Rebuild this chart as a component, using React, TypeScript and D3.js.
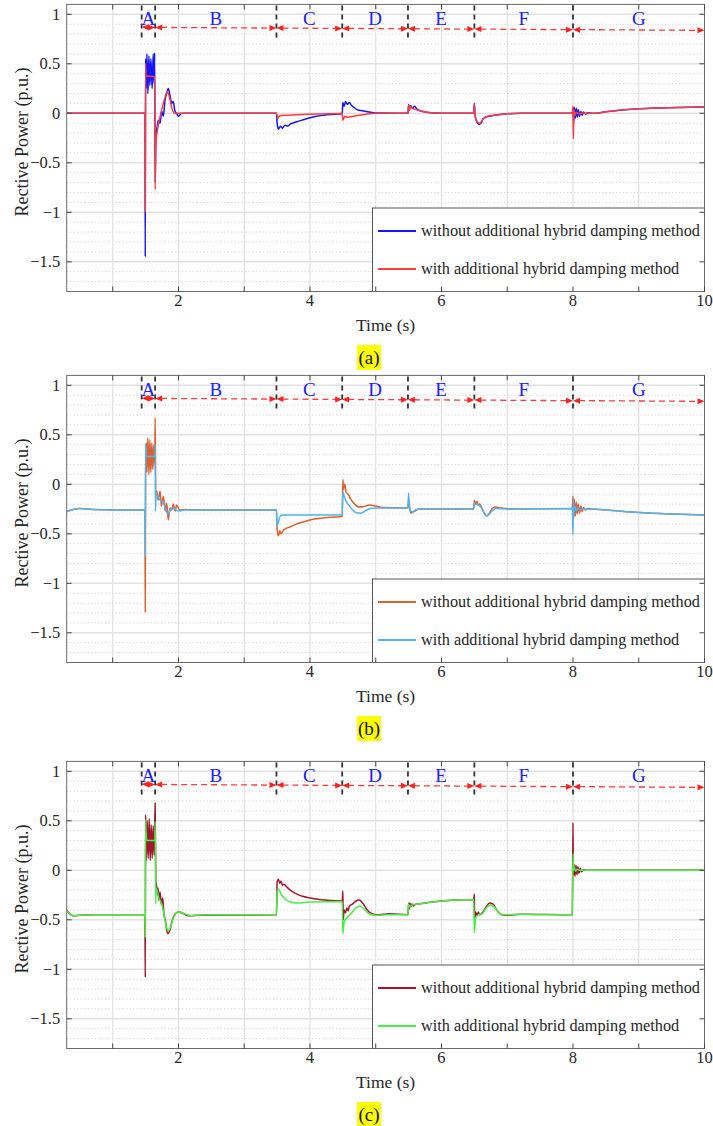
import * as d3 from "d3";
import { useEffect, useRef } from "react";

// x ticks / y ticks
const timeTicks = [2, 4, 6, 8, 10]
const powerTicks = [1, 0.5, 0, -0.5, -1, -1.5]
// section boundaries (s) and names
const sectionBounds = [1.44, 1.645, 3.49, 4.49, 5.49, 6.5, 8.0]
const sectionNames = ["A", "B", "C", "D", "E", "F", "G"]
const legendLabels = ["without additional hybrid damping method", "with additional hybrid damping method"]
const captions = ["(a)", "(b)", "(c)"]

type Pt = [number, number]

// (a)
const aWithout: Pt[] = [[0.3,0],[1.49,0],[1.495,-1.45],[1.5,0.55],[1.51,0.25],[1.52,0.6],[1.535,0.2],[1.55,0.58],[1.565,0.28],[1.58,0.55],[1.6,0.25],[1.615,0.6],[1.63,0.3],[1.638,0.61],[1.645,-0.7],[1.655,-0.3],[1.694,-0.07],[1.72,-0.1],[1.745,0.02],[1.77,-0.03],[1.795,0.13],[1.82,0.2],[1.845,0.25],[1.87,0.185],[1.897,0.1],[1.92,0.12],[1.947,0.02],[1.97,0],[2.0,-0.03],[2.05,0],[3.49,0],[3.5,-0.1],[3.52,-0.16],[3.55,-0.13],[3.58,-0.15],[3.62,-0.12],[3.66,-0.13],[3.7,-0.11],[3.8,-0.085],[3.9,-0.065],[4.0,-0.045],[4.1,-0.03],[4.2,-0.02],[4.3,-0.012],[4.49,-0.005],[4.5,0.11],[4.52,0.07],[4.54,0.12],[4.57,0.09],[4.6,0.11],[4.63,0.08],[4.67,0.06],[4.72,0.035],[4.8,0.025],[4.9,0.012],[5.0,0.003],[5.49,0],[5.5,0.09],[5.51,0.03],[5.53,0.08],[5.56,0.05],[5.59,0.07],[5.63,0.04],[5.7,0.02],[5.8,0.008],[6.0,0],[6.49,0],[6.5,0.1],[6.51,-0.02],[6.54,-0.09],[6.57,-0.11],[6.6,-0.1],[6.63,-0.06],[6.67,-0.04],[6.72,-0.03],[6.8,-0.02],[7.0,-0.005],[7.2,0],[7.99,0],[8.0,0.06],[8.01,-0.1],[8.02,0.06],[8.035,-0.05],[8.05,0.05],[8.065,-0.04],[8.08,0.035],[8.1,-0.03],[8.12,0.02],[8.14,-0.02],[8.16,0.012],[8.19,-0.01],[8.22,0.005],[8.3,0],[8.5,0.015],[8.7,0.03],[9.0,0.045],[9.3,0.053],[9.6,0.058],[10,0.063]]
const aWith: Pt[] = [[0.3,0],[1.49,0],[1.495,-1.0],[1.5,0.5],[1.505,0.38],[1.64,0.37],[1.645,-0.77],[1.655,-0.3],[1.7,-0.1],[1.75,0.05],[1.8,0.17],[1.83,0.22],[1.86,0.17],[1.9,0.05],[1.94,0],[3.49,0],[3.51,-0.05],[3.53,-0.03],[3.6,-0.02],[3.8,-0.015],[4.0,-0.01],[4.49,-0.003],[4.5,-0.07],[4.53,-0.03],[4.57,-0.04],[4.62,-0.035],[4.7,-0.025],[4.8,-0.015],[4.9,-0.005],[5.0,0],[5.49,0],[5.5,0.08],[5.51,0.03],[5.53,0.07],[5.56,0.05],[5.6,0.04],[5.7,0.02],[5.8,0.008],[6.0,0],[6.49,0],[6.5,0.09],[6.51,-0.02],[6.55,-0.09],[6.58,-0.1],[6.63,-0.06],[6.7,-0.03],[6.8,-0.02],[7.0,-0.005],[7.2,0],[7.99,0],[8.0,0.07],[8.005,-0.26],[8.015,0.03],[8.03,-0.02],[8.05,0.01],[8.08,-0.005],[8.12,0],[8.3,0],[8.5,0.015],[8.7,0.03],[9.0,0.045],[9.3,0.053],[9.6,0.058],[10,0.063]]

// (b)
const bWithout: Pt[] = [[0.3,-0.275],[0.4,-0.255],[0.5,-0.245],[0.7,-0.255],[1.0,-0.26],[1.49,-0.26],[1.495,-1.29],[1.5,0.1],[1.51,0.42],[1.52,0.12],[1.535,0.47],[1.55,0.1],[1.565,0.45],[1.58,0.12],[1.595,0.42],[1.61,0.15],[1.625,0.4],[1.64,0.2],[1.645,0.67],[1.655,-0.07],[1.67,-0.07],[1.69,-0.16],[1.72,-0.07],[1.74,-0.22],[1.77,-0.12],[1.8,-0.27],[1.82,-0.19],[1.845,-0.36],[1.87,-0.24],[1.9,-0.26],[1.92,-0.2],[1.95,-0.27],[1.97,-0.21],[2.02,-0.26],[2.1,-0.255],[2.3,-0.26],[3.49,-0.26],[3.5,-0.45],[3.52,-0.52],[3.54,-0.47],[3.56,-0.5],[3.6,-0.46],[3.7,-0.43],[3.8,-0.4],[3.9,-0.38],[4.0,-0.36],[4.2,-0.34],[4.49,-0.325],[4.5,0.05],[4.51,-0.05],[4.53,0],[4.55,-0.08],[4.58,-0.1],[4.62,-0.15],[4.68,-0.2],[4.75,-0.23],[4.82,-0.225],[4.9,-0.21],[5.0,-0.22],[5.1,-0.235],[5.49,-0.24],[5.5,-0.15],[5.51,-0.2],[5.52,-0.26],[5.54,-0.29],[5.56,-0.28],[5.6,-0.27],[5.65,-0.25],[6.49,-0.25],[6.5,-0.16],[6.52,-0.2],[6.54,-0.17],[6.56,-0.21],[6.58,-0.2],[6.62,-0.25],[6.66,-0.3],[6.69,-0.32],[6.73,-0.29],[6.78,-0.24],[6.83,-0.23],[6.9,-0.24],[7.1,-0.25],[7.99,-0.245],[8.0,-0.12],[8.01,-0.35],[8.02,-0.15],[8.035,-0.32],[8.05,-0.18],[8.065,-0.3],[8.08,-0.2],[8.1,-0.29],[8.12,-0.22],[8.14,-0.275],[8.16,-0.235],[8.19,-0.26],[8.22,-0.245],[8.3,-0.25],[8.6,-0.265],[9.0,-0.285],[9.5,-0.3],[10,-0.31]]
const bWith: Pt[] = [[0.3,-0.275],[0.4,-0.255],[0.5,-0.245],[0.7,-0.255],[1.0,-0.26],[1.49,-0.26],[1.495,-0.73],[1.5,0.41],[1.51,0.3],[1.52,0.28],[1.64,0.28],[1.645,0.4],[1.65,-0.27],[1.66,-0.1],[1.72,-0.16],[1.78,-0.2],[1.84,-0.3],[1.9,-0.24],[1.95,-0.25],[2.0,-0.27],[2.1,-0.26],[3.49,-0.26],[3.5,-0.42],[3.52,-0.38],[3.55,-0.32],[3.6,-0.31],[4.49,-0.31],[4.5,-0.08],[4.52,-0.12],[4.55,-0.17],[4.6,-0.22],[4.65,-0.26],[4.72,-0.29],[4.78,-0.29],[4.85,-0.265],[4.92,-0.245],[5.0,-0.24],[5.49,-0.24],[5.5,-0.09],[5.51,-0.2],[5.53,-0.27],[5.56,-0.28],[5.6,-0.26],[5.7,-0.25],[6.49,-0.25],[6.5,-0.19],[6.52,-0.2],[6.56,-0.21],[6.62,-0.25],[6.66,-0.3],[6.69,-0.32],[6.73,-0.3],[6.78,-0.26],[6.84,-0.245],[7.0,-0.25],[7.99,-0.245],[8.0,-0.51],[8.005,-0.15],[8.015,-0.3],[8.03,-0.22],[8.05,-0.27],[8.07,-0.24],[8.1,-0.255],[8.3,-0.25],[8.6,-0.265],[9.0,-0.285],[9.5,-0.3],[10,-0.31]]

// (c)
const cWithout: Pt[] = [[0.3,-0.41],[0.35,-0.44],[0.4,-0.46],[0.5,-0.455],[0.7,-0.45],[1.49,-0.45],[1.495,-1.08],[1.5,0.56],[1.51,0.1],[1.525,0.5],[1.54,0.12],[1.555,0.52],[1.57,0.1],[1.585,0.46],[1.6,0.12],[1.615,0.45],[1.63,0.15],[1.645,0.68],[1.655,-0.1],[1.665,-0.15],[1.68,-0.25],[1.69,-0.18],[1.7,-0.3],[1.72,-0.22],[1.74,-0.35],[1.76,-0.28],[1.78,-0.45],[1.8,-0.5],[1.82,-0.6],[1.84,-0.64],[1.86,-0.62],[1.88,-0.58],[1.9,-0.52],[1.95,-0.44],[2.0,-0.42],[2.05,-0.43],[2.15,-0.46],[2.3,-0.455],[3.49,-0.45],[3.5,-0.12],[3.52,-0.09],[3.54,-0.13],[3.56,-0.11],[3.58,-0.15],[3.6,-0.14],[3.65,-0.17],[3.7,-0.2],[3.8,-0.24],[3.9,-0.265],[4.0,-0.28],[4.15,-0.295],[4.3,-0.305],[4.49,-0.31],[4.5,-0.21],[4.505,-0.5],[4.52,-0.4],[4.54,-0.43],[4.56,-0.38],[4.58,-0.41],[4.6,-0.36],[4.65,-0.34],[4.7,-0.31],[4.75,-0.3],[4.8,-0.33],[4.87,-0.4],[4.95,-0.44],[5.05,-0.45],[5.2,-0.44],[5.49,-0.45],[5.5,-0.33],[5.51,-0.39],[5.52,-0.33],[5.535,-0.37],[5.55,-0.34],[5.57,-0.36],[5.6,-0.345],[5.65,-0.34],[5.8,-0.325],[6.0,-0.31],[6.2,-0.3],[6.49,-0.295],[6.5,-0.24],[6.505,-0.5],[6.52,-0.42],[6.54,-0.46],[6.56,-0.42],[6.58,-0.45],[6.62,-0.43],[6.68,-0.37],[6.73,-0.33],[6.78,-0.34],[6.85,-0.41],[6.92,-0.45],[7.0,-0.455],[7.2,-0.445],[7.99,-0.45],[8.0,0.48],[8.005,-0.05],[8.015,0.06],[8.03,-0.06],[8.045,0.05],[8.06,-0.045],[8.075,0.035],[8.09,-0.03],[8.11,0.02],[8.13,-0.015],[8.16,0.008],[8.2,0],[10,0]]
const cWith: Pt[] = [[0.3,-0.41],[0.35,-0.44],[0.4,-0.46],[0.5,-0.455],[0.7,-0.45],[1.49,-0.45],[1.495,-0.68],[1.5,0.51],[1.51,0.35],[1.52,0.3],[1.64,0.3],[1.645,0.49],[1.655,-0.34],[1.66,-0.18],[1.7,-0.28],[1.75,-0.35],[1.78,-0.45],[1.82,-0.58],[1.85,-0.61],[1.88,-0.57],[1.92,-0.49],[1.97,-0.43],[2.02,-0.42],[2.1,-0.44],[2.2,-0.46],[2.4,-0.45],[3.49,-0.45],[3.5,-0.22],[3.52,-0.19],[3.56,-0.24],[3.62,-0.29],[3.7,-0.32],[3.8,-0.33],[4.0,-0.32],[4.49,-0.315],[4.5,-0.64],[4.52,-0.52],[4.56,-0.48],[4.62,-0.44],[4.7,-0.38],[4.76,-0.36],[4.82,-0.39],[4.9,-0.44],[5.0,-0.455],[5.2,-0.45],[5.49,-0.45],[5.5,-0.34],[5.52,-0.37],[5.55,-0.35],[5.65,-0.34],[5.8,-0.325],[6.0,-0.31],[6.2,-0.3],[6.49,-0.295],[6.5,-0.63],[6.52,-0.48],[6.56,-0.45],[6.62,-0.44],[6.68,-0.38],[6.74,-0.35],[6.8,-0.37],[6.86,-0.42],[6.93,-0.45],[7.2,-0.445],[7.99,-0.45],[8.0,0.17],[8.01,0],[8.02,0.03],[8.04,-0.01],[8.06,0.01],[8.1,0],[10,0]]

const panelSeries = [[aWithout, aWith], [bWithout, bWith], [cWithout, cWith]]
const panelColors = [["#1414ff", "#ff3c3c"], ["#dc6030", "#4fb4f0"], ["#a3162f", "#44f044"]]

const W = 713, H = 1126
const left = 66.7, right = 704.5
const panelTop = [4.4, 375.4, 761.4]
const plotH = 287.1
const font = "'Liberation Serif', 'Times New Roman', serif"

export default function App() {
    const svgRef = useRef(null)

    useEffect(() => {
        const svg = d3.select(svgRef.current)
        svg.selectAll("*").remove()
        svg.append("rect").attr("width", W).attr("height", H).attr("fill", "white")

        const x = d3.scaleLinear([0.3, 10], [left, right])

        panelSeries.forEach((series, p) => {
            const top = panelTop[p], bottom = top + plotH
            const y = d3.scaleLinear([-1.8, 1.1], [bottom, top])
            const g = svg.append("g")

            g.append("clipPath").attr("id", "clip" + p)
                .append("rect").attr("x", left).attr("y", top).attr("width", right - left).attr("height", plotH)

            // grid
            const minor = d3.range(-17, 11).map(i => i / 10).filter(v => Math.abs(v * 2 - Math.round(v * 2)) > 1e-6)
            g.selectAll(".minor").data(minor).join("line")
                .attr("x1", left).attr("x2", right)
                .attr("y1", d => y(d)).attr("y2", d => y(d))
                .attr("stroke", "#bdbdbd").attr("stroke-width", 0.8).attr("stroke-dasharray", "1,2.5")
            g.selectAll(".major").data(powerTicks).join("line")
                .attr("x1", left).attr("x2", right)
                .attr("y1", d => y(d)).attr("y2", d => y(d))
                .attr("stroke", "#e2e2e2").attr("stroke-width", 1.6)
            g.selectAll(".vgrid").data(d3.range(1, 10)).join("line")
                .attr("x1", d => x(d)).attr("x2", d => x(d))
                .attr("y1", top).attr("y2", bottom)
                .attr("stroke", "#e0e0e0").attr("stroke-width", 1.2)

            // series
            const line = d3.line<Pt>().x(d => x(d[0])).y(d => y(d[1])).curve(d3.curveMonotoneX)
            const lines = g.append("g").attr("clip-path", `url(#clip${p})`)
            series.forEach((s, i) => {
                lines.append("path").attr("d", line(s)).attr("fill", "none")
                    .attr("stroke", panelColors[p][i]).attr("stroke-width", 1.5)
                    .attr("stroke-linejoin", "round")
            })

            // section markers
            const arrowY = (t: number) => y(0.868 - (t - 1.44) * 0.0035)
            g.selectAll(".mark").data(sectionBounds).join("line")
                .attr("x1", d => x(d)).attr("x2", d => x(d))
                .attr("y1", top + 1).attr("y2", y(0.74))
                .attr("stroke", "#333").attr("stroke-width", 1.8).attr("stroke-dasharray", "5,4")
            sectionBounds.forEach((b, i) => {
                const e = i + 1 < sectionBounds.length ? sectionBounds[i + 1] : 10
                const x0 = x(b), x1 = x(e), y0 = arrowY(b), y1 = arrowY(e)
                g.append("line").attr("x1", x0 + 6).attr("x2", x1 - 6).attr("y1", y0).attr("y2", y1)
                    .attr("stroke", "#ff3b3b").attr("stroke-width", 1.3).attr("stroke-dasharray", "6,4")
                g.append("path").attr("d", `M${x0},${y0} l7,-3 v6 Z`).attr("fill", "#ff2020")
                g.append("path").attr("d", `M${x1},${y1} l-7,-3 v6 Z`).attr("fill", "#ff2020")
                g.append("text").attr("x", x((b + e) / 2)).attr("y", y(0.955))
                    .attr("dy", "0.35em").attr("text-anchor", "middle")
                    .attr("font-family", font).attr("font-size", 19).attr("fill", "#2020ff")
                    .text(sectionNames[i])
            })

            // legend
            const lx = 372.5, lh = 83.5, ly = bottom - lh
            g.append("rect").attr("x", lx).attr("y", ly).attr("width", right - lx).attr("height", lh)
                .attr("fill", "white").attr("stroke", "#444").attr("stroke-width", 0.9)
            legendLabels.forEach((lab, i) => {
                const yy = ly + 23 + i * 38
                g.append("line").attr("x1", lx + 5.5).attr("x2", lx + 43.5).attr("y1", yy).attr("y2", yy)
                    .attr("stroke", panelColors[p][i]).attr("stroke-width", 2)
                g.append("text").attr("x", lx + 48.5).attr("y", yy).attr("dy", "0.33em")
                    .attr("font-family", font).attr("font-size", 16.25).attr("fill", "#262626")
                    .text(lab)
            })

            // axes box and ticks
            g.append("rect").attr("x", left).attr("y", top).attr("width", right - left).attr("height", plotH)
                .attr("fill", "none").attr("stroke", "#6a6a6a").attr("stroke-width", 1)
            powerTicks.forEach(v => {
                g.append("line").attr("x1", left).attr("x2", left + 5).attr("y1", y(v)).attr("y2", y(v)).attr("stroke", "#444")
                g.append("line").attr("x1", right - 5).attr("x2", right).attr("y1", y(v)).attr("y2", y(v)).attr("stroke", "#444")
                g.append("text").attr("x", left - 6.5).attr("y", y(v)).attr("dy", "0.33em")
                    .attr("text-anchor", "end").attr("font-family", font).attr("font-size", 16.5).attr("fill", "#262626")
                    .text(d3.format("")(v).replace("-", "-"))
            })
            d3.range(1, 11).forEach(t => {
                g.append("line").attr("x1", x(t)).attr("x2", x(t)).attr("y1", bottom).attr("y2", bottom - 5).attr("stroke", "#444")
                g.append("line").attr("x1", x(t)).attr("x2", x(t)).attr("y1", top).attr("y2", top + 5).attr("stroke", "#444")
            })
            timeTicks.forEach(t => {
                g.append("text").attr("x", x(t)).attr("y", bottom + 14.5).attr("text-anchor", "middle")
                    .attr("font-family", font).attr("font-size", 16.5).attr("fill", "#262626").text(t)
            })
            g.append("text").attr("x", (left + right) / 2).attr("y", bottom + 39)
                .attr("text-anchor", "middle").attr("font-family", font).attr("font-size", 17.5).attr("fill", "#262626")
                .text("Time (s)")
            g.append("text").attr("transform", `translate(22,${top + plotH / 2 - 6}) rotate(-90)`)
                .attr("dy", "0.35em").attr("text-anchor", "middle")
                .attr("font-family", font).attr("font-size", 18).attr("fill", "#262626")
                .text("Rective Power (p.u.)")

            // caption
            const cx = 369, cy = bottom + 66
            g.append("rect").attr("x", cx - 12).attr("y", cy - 12.5).attr("width", 24).attr("height", 25).attr("fill", "#ffff00")
            g.append("text").attr("x", cx).attr("y", cy).attr("dy", "0.35em").attr("text-anchor", "middle")
                .attr("font-family", font).attr("font-size", 19).attr("fill", "#111").text(captions[p])
        })
    }, [])

    return <svg ref={svgRef} width={W} height={H} viewBox={`0 0 ${W} ${H}`}
        style={{ position: "absolute", left: 0, top: 0, display: "block" }} xmlns="http://www.w3.org/2000/svg" />
}
